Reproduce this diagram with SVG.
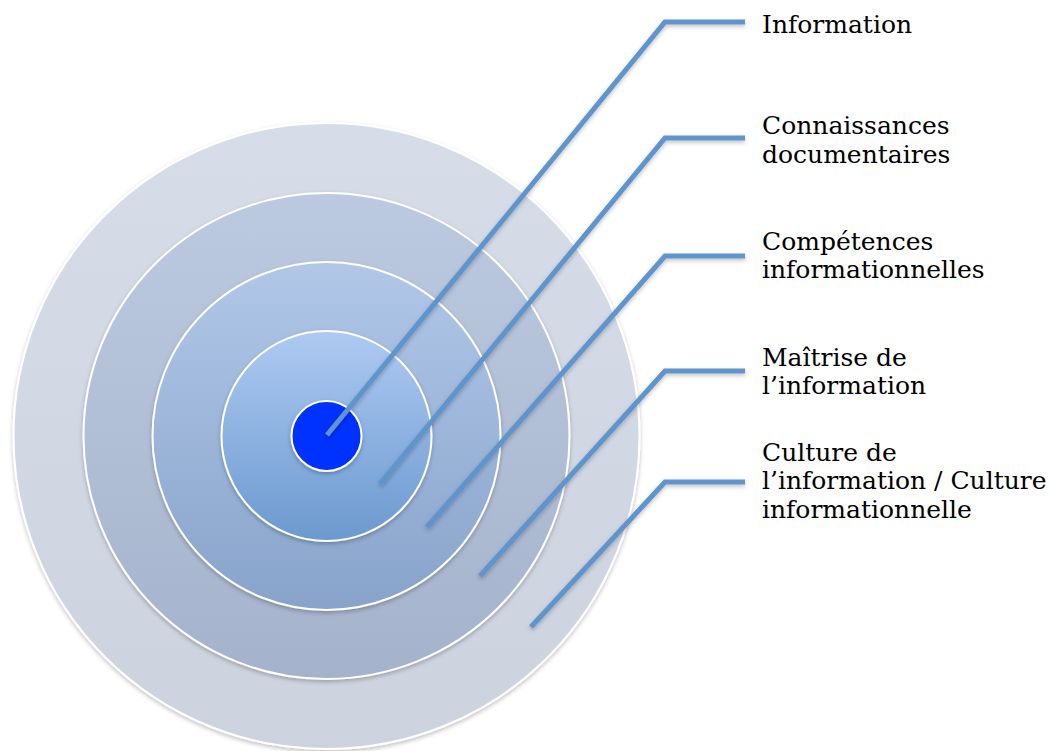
<svg xmlns="http://www.w3.org/2000/svg" width="1051" height="751" viewBox="0 0 1051 751">
  <defs>
    <linearGradient id="g1" x1="0" y1="0" x2="0" y2="1">
      <stop offset="0" stop-color="#d6dde9"/>
      <stop offset="1" stop-color="#ccd3df"/>
    </linearGradient>
    <linearGradient id="g2" x1="0" y1="0" x2="0" y2="1">
      <stop offset="0" stop-color="#bccae1"/>
      <stop offset="1" stop-color="#a5b2cb"/>
    </linearGradient>
    <linearGradient id="g3" x1="0" y1="0" x2="0" y2="1">
      <stop offset="0" stop-color="#b0c7e8"/>
      <stop offset="1" stop-color="#88a3ca"/>
    </linearGradient>
    <linearGradient id="g4" x1="0" y1="0" x2="0" y2="1">
      <stop offset="0" stop-color="#aecaf2"/>
      <stop offset="1" stop-color="#6b99cf"/>
    </linearGradient>
    <filter id="sh" x="-20%" y="-20%" width="140%" height="140%">
      <feDropShadow dx="0" dy="2" stdDeviation="2" flood-color="#000" flood-opacity="0.25"/>
    </filter>
  </defs>
  <style>
    .ring { stroke: #ffffff; stroke-width: 2; filter: url(#sh); }
    .conn { fill: none; stroke: #5e94cc; stroke-width: 5; stroke-linejoin: miter; filter: url(#sh); }
    .lbl { font-family: "DejaVu Serif", "Liberation Serif", serif; font-size: 25px; fill: #000000; }
  </style>
  <rect width="1051" height="751" fill="#ffffff"/>
  <g id="ring-culture"><circle class="ring" cx="326.5" cy="436" r="313" fill="url(#g1)"/></g>
  <g id="ring-maitrise"><circle class="ring" cx="326.5" cy="436" r="243" fill="url(#g2)"/></g>
  <g id="ring-competences"><circle class="ring" cx="326.5" cy="436" r="174" fill="url(#g3)"/></g>
  <g id="ring-connaissances"><circle class="ring" cx="326.5" cy="436" r="105" fill="url(#g4)"/></g>
  <g id="core-information"><circle class="ring" cx="326.5" cy="436" r="35" fill="#0033ff"/></g>
  <g id="connectors">
    <polyline class="conn" points="327,435 665,22 745,22"/>
    <polyline class="conn" points="380,484 665,138 745,138"/>
    <polyline class="conn" points="427,527 665,256 745,256"/>
    <polyline class="conn" points="480,576 665,371 745,371"/>
    <polyline class="conn" points="531,627 665,482 745,482"/>
  </g>
  <g id="label-information"><text class="lbl" x="762" y="33">Information</text></g>
  <g id="label-connaissances"><text class="lbl" x="762" y="134">Connaissances</text><text class="lbl" x="762" y="162.5">documentaires</text></g>
  <g id="label-competences"><text class="lbl" x="762" y="249.5">Compétences</text><text class="lbl" x="762" y="278">informationnelles</text></g>
  <g id="label-maitrise"><text class="lbl" x="762" y="366">Maîtrise de</text><text class="lbl" x="762" y="394">l’information</text></g>
  <g id="label-culture"><text class="lbl" x="762" y="461">Culture de</text><text class="lbl" x="762" y="489">l’information / Culture</text><text class="lbl" x="762" y="518">informationnelle</text></g>
</svg>
